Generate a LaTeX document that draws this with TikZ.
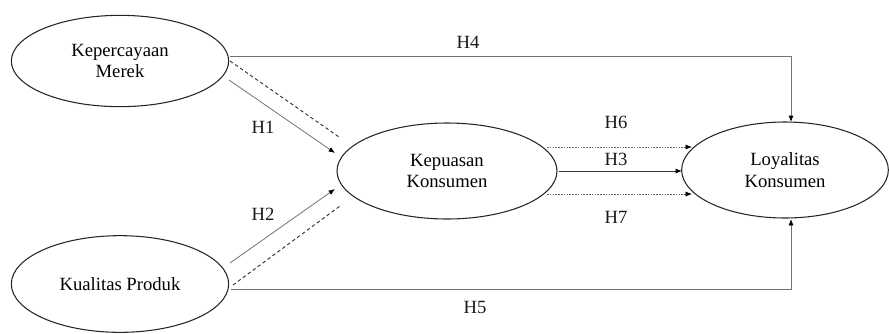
\documentclass[tikz,border=0pt]{standalone}
\usepackage{fontspec}
\setmainfont{Liberation Serif}
\usetikzlibrary{shapes.geometric,arrows.meta}
\begin{document}
\begin{tikzpicture}[x=0.75pt,y=-0.75pt,
  latent/.style={ellipse,draw=black!85,line width=0.8pt,inner sep=0pt,align=center,
    font=\fontsize{14}{16}\selectfont},
  lbl/.style={font=\fontsize{14}{16}\selectfont,inner sep=0pt,text=black!90},
  conn/.style={draw=black!55,line width=0.6pt},
  darkconn/.style={draw=black!80,line width=0.7pt},
  tip/.style={-{Latex[length=4.8pt,width=3.8pt,black]}},
  dashln/.style={draw=black!80,line width=0.7pt,dash pattern=on 2.6pt off 2pt},
  dotln/.style={draw=black!60,line width=0.5pt,dash pattern=on 1.2pt off 0.9pt}
]
\useasboundingbox (0,0) rectangle (889,333);
\node[latent,minimum width=163pt,minimum height=68.5pt] (e1) at (120,61) {Kepercayaan\\Merek};
\node[latent,minimum width=163pt,minimum height=72.5pt] (e2) at (120,284) {Kualitas Produk};
\node[latent,minimum width=165pt,minimum height=72pt] (e3) at (447,171) {Kepuasan\\Konsumen};
\node[latent,minimum width=155pt,minimum height=72pt] (e4) at (785,170) {Loyalitas\\Konsumen};

% connector end points near the ellipse borders
\coordinate (a1) at (229,80);   \coordinate (b1) at (335,153);
\coordinate (a1d) at (230,61);  \coordinate (b1d) at (339,137);
\coordinate (a2) at (230,263);  \coordinate (b2) at (335,189);
\coordinate (a2d) at (233,285); \coordinate (b2d) at (340,206);
\coordinate (a4) at (230,56);   \coordinate (c4) at (791,56);  \coordinate (b4) at (791,122);
\coordinate (a5) at (231,289);  \coordinate (c5) at (791,289); \coordinate (b5) at (791,219);
\coordinate (a6) at (547,147);  \coordinate (b6) at (692,147);
\coordinate (a3) at (559,171);  \coordinate (b3) at (682,171);
\coordinate (a7) at (547,194);  \coordinate (b7) at (692,194);

\draw[conn,tip] (a1) -- (b1);
\draw[dashln] (a1d) -- (b1d);
\draw[conn,tip] (a2) -- (b2);
\draw[dashln] (a2d) -- (b2d);
\draw[conn,tip] (a4) -- (c4) -- (b4);
\draw[conn,tip] (a5) -- (c5) -- (b5);
\draw[dotln,tip] (a6) -- (b6);
\draw[darkconn,tip] (a3) -- (b3);
\draw[dotln,tip] (a7) -- (b7);

\node[lbl] (h1) at (263,127) {H1};
\node[lbl] (h2) at (263,214) {H2};
\node[lbl] (h4) at (468,42) {H4};
\node[lbl] (h5) at (475,307) {H5};
\node[lbl] (h6) at (616,122) {H6};
\node[lbl] (h3) at (616,159) {H3};
\node[lbl] (h7) at (616,217) {H7};
\end{tikzpicture}
\end{document}
